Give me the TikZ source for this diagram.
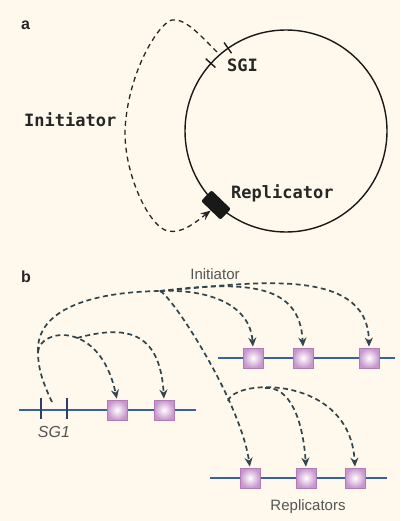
\documentclass[tikz,border=0pt]{standalone}
\usepackage{fontspec}
\setmainfont{Liberation Sans}
\newfontfamily\oldfont{DejaVu Sans Mono}
\usetikzlibrary{arrows.meta}
\definecolor{bgcream}{RGB}{254,249,236}
\definecolor{dnablue}{RGB}{55,95,170}
\definecolor{tickblue}{RGB}{45,65,100}
\definecolor{arcgrey}{RGB}{50,68,78}
\definecolor{boxpink}{RGB}{200,150,205}
\definecolor{boxedge}{RGB}{175,125,180}
\definecolor{labelgrey}{RGB}{85,85,85}

\begin{document}
\begin{tikzpicture}[x=1pt,y=-1pt,
	panel/.style={font=\fontsize{16}{16}\selectfont\bfseries, text=black!85, inner sep=0pt, anchor=base west},
	oldlabel/.style={font=\oldfont\fontsize{17}{17}\selectfont\bfseries, text=black!85, inner sep=0pt, anchor=base west},
	newlabel/.style={font=\fontsize{15}{15}\selectfont, text=labelgrey, inner sep=0pt, anchor=base},
	dnaring/.style={draw=black!90, line width=1.4pt},
	sgtick/.style={draw=black!90, line width=1.4pt},
	replicator/.style={rectangle, rounded corners=2pt, fill=black!90, minimum width=27pt, minimum height=15pt, inner sep=0pt, rotate=-44},
	initloop/.style={draw=black!85, line width=1.3pt, dash pattern=on 5pt off 4pt, -{Stealth[length=10pt,width=8pt]}},
	dnaline/.style={draw=dnablue, line width=1.8pt},
	dnatick/.style={draw=tickblue, line width=1.6pt},
	repbox/.style={rectangle, minimum size=20pt, inner sep=0pt, draw=boxedge, line width=0.8pt, inner color=white, outer color=boxpink},
	initarc/.style={draw=arcgrey, line width=1.7pt, dash pattern=on 5pt off 3.5pt},
	initarrow/.style={initarc, -{Stealth[length=9pt,width=8pt]}, shorten >=1pt}]

	\useasboundingbox (0,0) rectangle (400,521);
	\fill[bgcream] (0,0) rectangle (400,521);

	% panel a
	\node[panel] (pa) at (21,30) {a};
	\coordinate (ctr) at (286,131);
	\draw[dnaring] (ctr) circle (101);
	\draw[sgtick] (ctr) ++(235:95) -- ++(235:13);
	\draw[sgtick] (ctr) ++(222:95) -- ++(222:13);
	\node[replicator] (rep) at (216,205) {};
	\coordinate (sg) at (217,52);
	\node[oldlabel] (sglabel) at (227,72) {SGI};
	\node[oldlabel] (replabel) at (231,198) {Replicator};
	\node[oldlabel] (initlabel) at (24,127) {Initiator};
	\draw[initloop] (sg) .. controls (200,35) and (185,18) .. (172,20)
		.. controls (160,22) and (128,70) .. (125,130)
		.. controls (124,175) and (150,228) .. (168,231)
		.. controls (182,234) and (196,222) .. (rep.south);

	% panel b
	\node[panel] (pb) at (21,282) {b};
	\node[newlabel] (initb) at (215,279) {Initiator};
	\node[newlabel] (repsb) at (308,510) {Replicators};
	\node[newlabel, font=\fontsize{16}{16}\selectfont\itshape] (sgb) at (54,437) {SG1};

	\draw[dnaline] (19,410) -- (196,410);
	\draw[dnaline] (218,358) -- (395,358);
	\draw[dnaline] (210,478) -- (387,478);
	\draw[dnatick] (41,398) -- (41,419);
	\draw[dnatick] (67,398) -- (67,419);

	\node[repbox] (l1) at (117,410) {};
	\node[repbox] (l2) at (164,410) {};
	\node[repbox] (t1) at (253,358) {};
	\node[repbox] (t2) at (303,358) {};
	\node[repbox] (t3) at (369,358) {};
	\node[repbox] (b1) at (250,478) {};
	\node[repbox] (b2) at (306,478) {};
	\node[repbox] (b3) at (355,478) {};

	\coordinate (s) at (52,402);
	\coordinate (j) at (38,352);
	\coordinate (m) at (77,338);
	\coordinate (k) at (160,291);
	\coordinate (c) at (228,401);
	\coordinate (n) at (265,388);

	\draw[initarc] (s) .. controls (44,385) and (38,370) .. (j);
	\draw[initarrow] (j) .. controls (40,328) and (100,320) .. (l1.north);
	\draw[initarrow] (m) .. controls (125,325) and (160,330) .. (l2.north);
	\draw[initarc] (j) .. controls (36,310) and (90,292) .. (k);
	\draw[initarrow] (k) .. controls (210,289) and (250,305) .. (t1.north);
	\draw[initarrow] (k) .. controls (250,280) and (300,285) .. (t2.north);
	\draw[initarrow] (k) .. controls (240,285) and (368,262) .. (t3.north);
	\draw[initarrow] (k) .. controls (172,296) and (240,400) .. (b1.north);
	\draw[initarrow] (c) .. controls (235,378) and (350,375) .. (b3.north);
	\draw[initarrow] (n) .. controls (290,386) and (303,420) .. (b2.north);
\end{tikzpicture}
\end{document}
